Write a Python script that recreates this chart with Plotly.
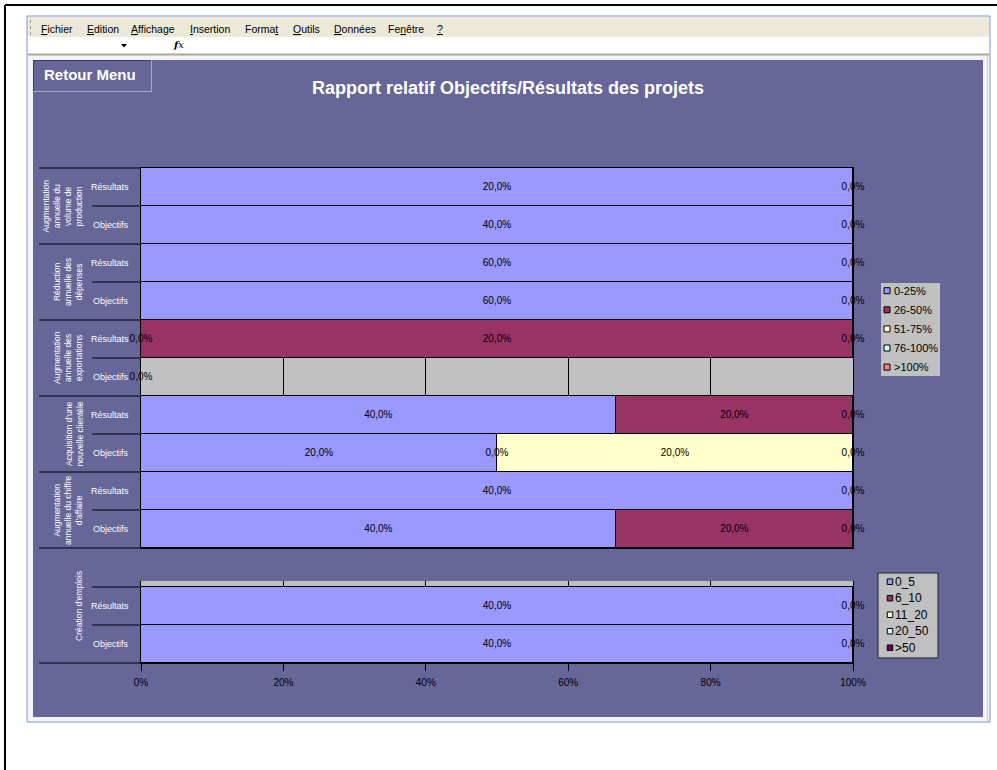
import plotly.graph_objects as go

W, H = 997, 770

# ---------------- data ----------------
group_labels = [
    "Augmentation<br>annuelle du<br>volume de<br>production",
    "Réduction<br>annuelle des<br>dépenses",
    "Augmentation<br>annuelle des<br>exportations",
    "Acquisition d'une<br>nouvelle clientèle",
    "Augmentation<br>annuelle du chiffre<br>d'affaire",
]
row_labels = ["Résultats", "Objectifs"]

rate_names = ["0-25%", "26-50%", "51-75%", "76-100%", ">100%"]
rate_colors = ["#9999FF", "#993366", "#FFFFCC", "#CCFFFF", "#FF8080"]
# one value per row: (group, Résultats) then (group, Objectifs)
rate_0_25 = [20, 40, 60, 60, 0, 0, 40, 20, 40, 40]
rate_26_50 = [0, 0, 0, 0, 20, 0, 20, 0, 0, 20]
rate_51_75 = [0, 0, 0, 0, 0, 0, 0, 20, 0, 0]
rate_76_100 = [0, 0, 0, 0, 0, 0, 0, 0, 0, 0]
rate_over_100 = [0, 0, 0, 0, 0, 0, 0, 0, 0, 0]

jobs_label = "Création d'emplois"
jobs_names = ["0_5", "6_10", "11_20", "20_50", ">50"]
jobs_colors = ["#9999FF", "#993366", "#FFFFCC", "#CCFFFF", "#660066"]
jobs_0_5 = [40, 40]
jobs_6_10 = [0, 0]
jobs_11_20 = [0, 0]
jobs_20_50 = [0, 0]
jobs_over_50 = [0, 0]

x_ticks = [0, 20, 40, 60, 80, 100]
x_tick_text = ["0%", "20%", "40%", "60%", "80%", "100%"]

title_text = "Rapport relatif Objectifs/Résultats des projets"
button_text = "Retour Menu"
menu_items = ["<u>F</u>ichier", "<u>E</u>dition", "<u>A</u>ffichage", "<u>I</u>nsertion",
              "Forma<u>t</u>", "<u>O</u>utils", "<u>D</u>onnées", "Fe<u>n</u>être", "<u>?</u>"]

# ---------------- layout constants (pixels) ----------------
menu_x = [39, 85, 129, 188, 243, 291, 332, 386, 435]
PLOT_L, PLOT_R = 141, 853
C1_TOP, C1_BOT = 168, 548
C2_TOP, C2_ROWS_TOP, C2_BOT = 581, 587, 663
FONT = "Arial, Liberation Sans, sans-serif"


def px(p):
    return p / W


def py(p):
    return 1 - p / H


def rect(x0, y0, x1, y1, fill=None, line=None, lw=1):
    return dict(type="rect", xref="paper", yref="paper", layer="below",
                x0=px(x0), x1=px(x1), y0=py(y1), y1=py(y0),
                fillcolor=fill or "rgba(0,0,0,0)",
                line=dict(color=line or "rgba(0,0,0,0)", width=lw if line else 0))


def seg(x0, y0, x1, y1, color, lw=1, layer="above"):
    return dict(type="line", xref="paper", yref="paper", layer=layer,
                x0=px(x0), x1=px(x1), y0=py(y0), y1=py(y1),
                line=dict(color=color, width=lw))


def label(text, x, y, size, color, xanchor="left", angle=0, family=FONT):
    return dict(text=text, xref="paper", yref="paper", x=px(x), y=py(y),
                xanchor=xanchor, yanchor="middle", textangle=angle, align="center",
                font=dict(family=family, size=size, color=color), showarrow=False)


def fmt(v):
    return f"{v:.1f}%".replace(".", ",")


def segment_labels(series):
    """Centre of each stacked segment, in percent of the row total."""
    xs, ys, texts = [], [], []
    for r in range(len(series[0])):
        vals = [s[r] for s in series]
        total = sum(vals)
        cum = 0
        seen = set()
        for v in vals:
            pos = (cum + v / 2) / total * 100 if total else 0
            cum += v
            key = (round(pos, 4), v)
            if key in seen:
                continue
            seen.add(key)
            xs.append(pos)
            ys.append(r)
            texts.append(fmt(v))
    return xs, ys, texts


fig = go.Figure()

# ---------------- chart 1: rates ----------------
series1 = [rate_0_25, rate_26_50, rate_51_75, rate_76_100, rate_over_100]
rows1 = list(range(len(rate_0_25)))
for name, color, vals in zip(rate_names, rate_colors, series1):
    fig.add_trace(go.Bar(x=vals, y=rows1, orientation="h", name=name,
                         marker=dict(color=color, line=dict(color="#000000", width=1)),
                         xaxis="x", yaxis="y", showlegend=False, hoverinfo="skip"))
lx, ly, lt = segment_labels(series1)
fig.add_trace(go.Scatter(x=lx, y=ly, text=lt, mode="text", xaxis="x", yaxis="y",
                         textfont=dict(family=FONT, size=10, color="#000000"),
                         cliponaxis=False, showlegend=False, hoverinfo="skip"))

# ---------------- chart 2: jobs ----------------
series2 = [jobs_0_5, jobs_6_10, jobs_11_20, jobs_20_50, jobs_over_50]
rows2 = list(range(len(jobs_0_5)))
for name, color, vals in zip(jobs_names, jobs_colors, series2):
    fig.add_trace(go.Bar(x=vals, y=rows2, orientation="h", name=name,
                         marker=dict(color=color, line=dict(color="#000000", width=1)),
                         xaxis="x2", yaxis="y2", showlegend=False, hoverinfo="skip"))
lx2, ly2, lt2 = segment_labels(series2)
fig.add_trace(go.Scatter(x=lx2, y=ly2, text=lt2, mode="text", xaxis="x2", yaxis="y2",
                         textfont=dict(family=FONT, size=10, color="#000000"),
                         cliponaxis=False, showlegend=False, hoverinfo="skip"))

# ---------------- window chrome and backgrounds ----------------
shapes = [
    rect(27, 16, 990, 722, fill="#F4F4F4", line="#7A96DF"),
    rect(28, 17, 989, 37, fill="#ECE9D8"),
    rect(28, 37, 989, 54, fill="#FFFFFF"),
    seg(28, 54.5, 989, 54.5, "#ACA899", 2, "below"),
    seg(987.5, 56, 987.5, 721, "#D4D0C8", 1, "below"),
    rect(33, 60, 983, 717, fill="#666699"),
    # plot area backgrounds
    rect(PLOT_L, C1_TOP, PLOT_R, C1_BOT, fill="#C0C0C0"),
    rect(PLOT_L, C2_TOP, PLOT_R, C2_BOT, fill="#C0C0C0"),
    # button
    seg(33, 60.5, 152, 60.5, "#3A3A6A", 1),
    seg(33.5, 60, 33.5, 91, "#3A3A6A", 1),
    seg(151.5, 60, 151.5, 91.5, "#A8A8CC", 1),
    seg(33, 91.5, 152, 91.5, "#A8A8CC", 1),
    # outer page border
    seg(5, 5, 997, 5, "#000000", 2),
    seg(5, 5, 5, 770, "#000000", 2),
    # menu grip
    dict(type="line", xref="paper", yref="paper", x0=px(30.5), x1=px(30.5),
         y0=py(20), y1=py(35), line=dict(color="#A0A0A0", width=1, dash="dot")),
    # name box drop arrow
    dict(type="path", xref="paper", yref="paper", fillcolor="#000000", line=dict(width=0),
         path=f"M{px(121)},{py(44)} L{px(127)},{py(44)} L{px(124)},{py(47.5)} Z"),
]

# category separators, chart 1
row_h1 = (C1_BOT - C1_TOP) / len(rows1)
for r in range(len(rows1) + 1):
    y = C1_TOP + r * row_h1
    x0 = 39 if r % 2 == 0 else 92
    shapes.append(seg(x0, y, PLOT_L, y, "#000000", 1))
# category separators, chart 2
row_h2 = (C2_BOT - C2_ROWS_TOP) / len(rows2)
for r in range(len(rows2) + 1):
    y = C2_ROWS_TOP + r * row_h2
    x0 = 39 if r == len(rows2) else 92
    shapes.append(seg(x0, y, PLOT_L, y, "#000000", 1))

# ---------------- annotations ----------------
ann = []
for i, item in enumerate(menu_items):
    ann.append(label(item, menu_x[i], 28.5, 10.5, "#000000"))
ann.append(label("<b><i>f</i></b><i>x</i>", 178, 45, 10, "#000000", "center",
                 family="DejaVu Serif, serif"))
ann.append(label(f"<b>{button_text}</b>", 42, 74.5, 15, "#FFFFFF"))
ann.append(label(f"<b>{title_text}</b>", 507.5, 88, 18, "#FFFFFF", "center"))

for g, text in enumerate(group_labels):
    yc = C1_TOP + (2 * g + 1) * row_h1
    ann.append(label(text, 86, yc, 8.5, "#FFFFFF", "right", -90))
for r in rows1:
    yc = C1_TOP + (r + 0.5) * row_h1
    ann.append(label(row_labels[r % 2], 131, yc, 9, "#FFFFFF", "right"))
ann.append(label(jobs_label, 86, 606, 8.5, "#FFFFFF", "right", -90))
for r in rows2:
    yc = C2_ROWS_TOP + (r + 0.5) * row_h2
    ann.append(label(row_labels[r % 2], 131, yc, 9, "#FFFFFF", "right"))


# ---------------- legends ----------------
def legend_box(names, colors, box, first_y, step, sq_cx, sq, text_x, size, border):
    shapes.append(rect(*box, fill="#C0C0C0", line=border, lw=1))
    for i, (name, color) in enumerate(zip(names, colors)):
        yc = first_y + i * step
        shapes.append(dict(type="rect", xref="paper", yref="paper",
                           x0=px(sq_cx - sq / 2), x1=px(sq_cx + sq / 2),
                           y0=py(yc + sq / 2), y1=py(yc - sq / 2),
                           fillcolor=color, line=dict(color="#000000", width=1)))
        ann.append(label(name, text_x, yc, size, "#000000"))


legend_box(rate_names, rate_colors, (881, 283, 940, 376), 290.7, 19.1, 887, 6, 892, 11, None)
legend_box(jobs_names, jobs_colors, (878, 573, 938, 658), 581.7, 16.5, 890, 5.5, 893, 12, "#222222")

# ---------------- axes ----------------
fig.update_layout(
    width=W, height=H, autosize=False,
    margin=dict(l=0, r=0, t=0, b=0, pad=0),
    paper_bgcolor="#FFFFFF", plot_bgcolor="rgba(0,0,0,0)",
    barmode="stack", barnorm="percent", bargap=0,
    showlegend=False,
    shapes=shapes, annotations=ann,
    xaxis=dict(domain=[px(PLOT_L), px(PLOT_R)], range=[0, 100], anchor="y", automargin=False,
               tickvals=x_ticks[1:-1], showticklabels=False, ticks="",
               showgrid=True, gridcolor="#000000", gridwidth=1, zeroline=False,
               showline=True, mirror=True, linecolor="#000000", linewidth=1),
    yaxis=dict(domain=[py(C1_BOT), py(C1_TOP)], range=[len(rows1) - 0.5, -0.5], anchor="x",
               automargin=False, showticklabels=False, ticks="", showgrid=False,
               zeroline=False, showline=True, mirror=True, linecolor="#000000", linewidth=1),
    xaxis2=dict(domain=[px(PLOT_L), px(PLOT_R)], range=[0, 100], anchor="y2", automargin=False,
                tickvals=x_ticks, ticktext=x_tick_text, ticks="outside", ticklen=7,
                tickcolor="#000000", tickwidth=1, ticklabelstandoff=3,
                tickfont=dict(family=FONT, size=10, color="#000000"),
                showgrid=True, gridcolor="#000000", gridwidth=1, zeroline=False,
                showline=True, linecolor="#000000", linewidth=1),
    yaxis2=dict(domain=[py(C2_BOT), py(C2_TOP)],
                range=[len(rows2) - 0.5, -0.5 - (C2_ROWS_TOP - C2_TOP) / row_h2], anchor="x2",
                automargin=False, showticklabels=False, ticks="", showgrid=False,
                zeroline=False, showline=True, mirror=True, linecolor="#000000", linewidth=1),
)

fig.write_html("out.html")
